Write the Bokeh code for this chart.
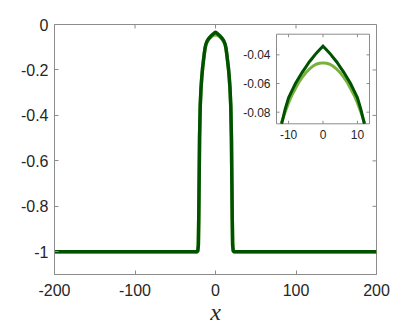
from bokeh.plotting import figure
from bokeh.models import FixedTicker, Range1d
from bokeh.core.properties import value
from bokeh.embed import file_html
from bokeh.resources import INLINE

# ---- data ----
x_dark = [-200, -23, -22, -21.3, -20.8, -20.3, -19.8, -19, -18, -17, -16, -15, -14, -13, -12,
          -11, -10, -9, -8, -7, -6, -5, -4, -3, -2, -1, 0,
          1, 2, 3, 4, 5, 6, 7, 8, 9, 10, 11,
          12, 13, 14, 15, 16, 17, 18, 19, 19.8, 20.3, 20.8, 21.3, 22, 23, 200]
y_dark = [-1, -1, -0.995, -0.97, -0.85, -0.68, -0.5, -0.36, -0.28, -0.23, -0.19, -0.16, -0.13, -0.105, -0.088,
          -0.078, -0.070, -0.065, -0.060, -0.056, -0.052, -0.0485, -0.045, -0.042, -0.039, -0.0365, -0.034,
          -0.0365, -0.039, -0.042, -0.045, -0.0485, -0.052, -0.056, -0.060, -0.065, -0.070, -0.078,
          -0.088, -0.105, -0.13, -0.16, -0.19, -0.23, -0.28, -0.36, -0.5, -0.68, -0.85, -0.97, -0.995, -1, -1]

x_light = x_dark
y_light = [-1, -1, -0.995, -0.97, -0.85, -0.68, -0.5, -0.36, -0.28, -0.23, -0.19, -0.16, -0.13, -0.105, -0.087,
           -0.080, -0.0735, -0.068, -0.0635, -0.059, -0.0555, -0.0525, -0.050, -0.048, -0.0466, -0.0459, -0.0456,
           -0.0459, -0.0466, -0.048, -0.050, -0.0525, -0.0555, -0.059, -0.0635, -0.068, -0.0735, -0.080,
           -0.087, -0.105, -0.13, -0.16, -0.19, -0.23, -0.28, -0.36, -0.5, -0.68, -0.85, -0.97, -0.995, -1, -1]

main_xticks = [-200, -100, 0, 100, 200]
main_xlabels = ["-200", "-100", "0", "100", "200"]
main_yticks = [-1, -0.8, -0.6, -0.4, -0.2, 0]
main_ylabels = ["-1", "-0.8", "-0.6", "-0.4", "-0.2", "0"]
inset_xticks = [-10, 0, 10]
inset_xlabels = ["-10", "0", "10"]
inset_yticks = [-0.08, -0.06, -0.04]
inset_ylabels = ["-0.08", "-0.06", "-0.04"]
inset_xlim = (-13.5, 13.5)
inset_ylim = (-0.0881, -0.0256)

DARK = "#005200"
LIGHT = "#78b23c"
AXC = "#8c8c8c"
TXT = "#262626"
FONT = "Liberation Sans"

# ---- layout (pixels) ----
MW, MH = 322, 250                 # main frame size
BL, BT, BR, BB = 54, 24, 32, 49   # main borders
IB_L, IB_R, IB_T, IB_B = 222, 315, 9.7, 99.3  # inset box inside main frame (px from frame left / top)

fig = figure(frame_width=MW, frame_height=MH,
             x_range=Range1d(-200, 200), y_range=Range1d(-1.1, 0),
             output_backend="svg", toolbar_location=None,
             min_border_left=BL, min_border_top=BT, min_border_right=BR, min_border_bottom=BB)
fig.grid.visible = False
fig.outline_line_color = AXC
for ax in fig.xaxis + fig.yaxis:
    ax.axis_line_color = AXC
    ax.major_tick_line_color = AXC
    ax.major_tick_in = 4
    ax.major_tick_out = 0
    ax.minor_tick_line_color = None
    ax.major_label_text_font = FONT
    ax.major_label_text_font_size = "16px"
    ax.major_label_text_color = TXT
fig.xaxis.ticker = FixedTicker(ticks=main_xticks)
fig.xaxis.major_label_overrides = dict(zip(main_xticks, main_xlabels))
fig.yaxis.ticker = FixedTicker(ticks=main_yticks)
fig.yaxis.major_label_overrides = dict(zip(main_yticks, main_ylabels))
fig.xaxis.major_label_standoff = 9
fig.yaxis.major_label_standoff = 6
fig.xaxis.axis_label = "x"
fig.xaxis.axis_label_text_font = "Liberation Serif"
fig.xaxis.axis_label_text_font_style = "italic"
fig.xaxis.axis_label_text_font_size = "24px"
fig.xaxis.axis_label_text_color = TXT
fig.xaxis.axis_label_standoff = 0

# mirrored inward ticks (top / right) of the main box
xr, yr = fig.x_range, fig.y_range
mdy = 4 * (yr.end - yr.start) / MH
mdx = 4 * (xr.end - xr.start) / MW
fig.segment(x0=main_xticks, y0=[yr.end] * len(main_xticks), x1=main_xticks,
            y1=[yr.end - mdy] * len(main_xticks), line_color=AXC)
fig.segment(x0=[xr.end] * len(main_yticks), y0=main_yticks, x1=[xr.end - mdx] * len(main_yticks),
            y1=main_yticks, line_color=AXC)

fig.line(x_light, y_light, line_color=LIGHT, line_width=3.5, line_join="round")
fig.line(x_dark, y_dark, line_color=DARK, line_width=3.5, line_join="round")

# ---- inset drawn through its own ranges, mapped onto a sub-box of the frame ----
kx = (inset_xlim[1] - inset_xlim[0]) / (IB_R - IB_L)
ky = (inset_ylim[1] - inset_ylim[0]) / (IB_B - IB_T)
fig.extra_x_ranges = {"ix": Range1d(inset_xlim[0] - IB_L * kx, inset_xlim[1] + (MW - IB_R) * kx)}
fig.extra_y_ranges = {"iy": Range1d(inset_ylim[0] - (MH - IB_B) * ky, inset_ylim[1] + IB_T * ky)}
R = dict(x_range_name="ix", y_range_name="iy")

fig.quad(left=[inset_xlim[0]], right=[inset_xlim[1]], bottom=[inset_ylim[0]], top=[inset_ylim[1]],
         fill_color="white", line_color=AXC, line_width=1, **R)


def clip_to_box(xs, ys, xlim, ylim):
    """Keep the part of a curve inside the inset box (linear crossing at the box edge)."""
    ox, oy = [], []
    for i in range(len(xs)):
        inside = ylim[0] <= ys[i] <= ylim[1] and xlim[0] <= xs[i] <= xlim[1]
        if i > 0:
            prev_in = ylim[0] <= ys[i - 1] <= ylim[1] and xlim[0] <= xs[i - 1] <= xlim[1]
            if inside != prev_in:
                t = (ylim[0] - ys[i - 1]) / (ys[i] - ys[i - 1])
                ox.append(xs[i - 1] + t * (xs[i] - xs[i - 1]))
                oy.append(ylim[0])
        if inside:
            ox.append(xs[i])
            oy.append(ys[i])
    return ox, oy


lx, ly = clip_to_box(x_light, y_light, inset_xlim, inset_ylim)
dx_, dy_ = clip_to_box(x_dark, y_dark, inset_xlim, inset_ylim)
fig.line(lx, ly, line_color=LIGHT, line_width=3, line_join="round", **R)
fig.line(dx_, dy_, line_color=DARK, line_width=3, line_join="miter", **R)

# inset ticks (inward, all four sides)
tl = 3
idy = tl * ky
idx = tl * kx
n = len(inset_xticks)
fig.segment(x0=inset_xticks, y0=[inset_ylim[0]] * n, x1=inset_xticks, y1=[inset_ylim[0] + idy] * n,
            line_color=AXC, **R)
fig.segment(x0=inset_xticks, y0=[inset_ylim[1]] * n, x1=inset_xticks, y1=[inset_ylim[1] - idy] * n,
            line_color=AXC, **R)
m = len(inset_yticks)
fig.segment(x0=[inset_xlim[0]] * m, y0=inset_yticks, x1=[inset_xlim[0] + idx] * m, y1=inset_yticks,
            line_color=AXC, **R)
fig.segment(x0=[inset_xlim[1]] * m, y0=inset_yticks, x1=[inset_xlim[1] - idx] * m, y1=inset_yticks,
            line_color=AXC, **R)

# inset tick labels
fig.text(x=inset_xticks, y=[inset_ylim[0]] * n, text=inset_xlabels, y_offset=6,
         text_align="center", text_baseline="top", text_font=value(FONT),
         text_font_size=value("12px"), text_color=TXT, **R)
fig.text(x=[inset_xlim[0]] * m, y=inset_yticks, text=inset_ylabels, x_offset=-6,
         text_align="right", text_baseline="middle", text_font=value(FONT),
         text_font_size=value("12px"), text_color=TXT, **R)

open("out.html", "w").write(file_html(fig, INLINE))
